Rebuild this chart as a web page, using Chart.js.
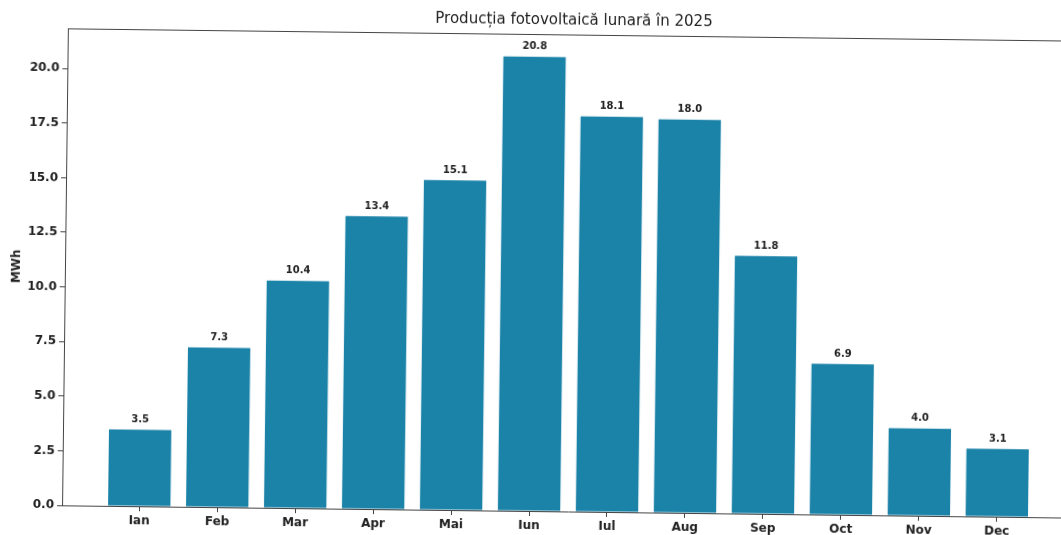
<!DOCTYPE html>
<html>
<head>
<meta charset="utf-8">
<script src="https://cdn.jsdelivr.net/npm/chart.js@4"></script>
<style>
  html, body { margin: 0; padding: 0; background: #fff; overflow: hidden; }
  #wrap { width: 1100px; height: 535px; transform: rotate(0.7deg); transform-origin: 530px 267px; }
</style>
</head>
<body>
<div id="wrap"><canvas id="myChart" width="1100" height="535"></canvas></div>
<script>
// monthly PV production
var months = ['Ian', 'Feb', 'Mar', 'Apr', 'Mai', 'Iun', 'Iul', 'Aug', 'Sep', 'Oct', 'Nov', 'Dec'];
var production = [3.5, 7.3, 10.4, 13.4, 15.1, 20.8, 18.1, 18.0, 11.8, 6.9, 4.0, 3.1];
var yTicks = [0, 2.5, 5, 7.5, 10, 12.5, 15, 17.5, 20];
var chartTitle = 'Producția fotovoltaică lunară în 2025';

var barColor = '#1b82a8';
var axisColor = '#444';
var textColor = '#222';

// title centred on the plot, value over each bar, top/right spines
var extras = {
    id: 'extras',
    afterDatasetsDraw: function(chart) {
        var ctx = chart.ctx;
        var area = chart.chartArea;
        ctx.save();
        ctx.strokeStyle = axisColor;
        ctx.lineWidth = 1;
        ctx.beginPath();
        ctx.moveTo(area.left, area.top + 0.5);
        ctx.lineTo(area.right, area.top + 0.5);
        ctx.lineTo(area.right, area.bottom);
        ctx.stroke();

        ctx.fillStyle = textColor;
        ctx.textAlign = 'center';
        ctx.textBaseline = 'middle';
        ctx.font = '15px "DejaVu Sans"';
        ctx.fillText(chartTitle, (area.left + area.right) / 2, 20);

        ctx.font = 'bold 10px "DejaVu Sans"';
        ctx.textBaseline = 'bottom';
        chart.getDatasetMeta(0).data.forEach(function(bar, i) {
            ctx.fillText(production[i].toFixed(1), bar.x, bar.y - 5);
        });
        ctx.restore();
    }
};

document.addEventListener('DOMContentLoaded', function() {
    var ctx = document.getElementById('myChart').getContext('2d');

    var myChart = new Chart(ctx, {
        type: 'bar',
        data: {
            datasets: [{
                label: 'MWh',
                data: production.map(function(v, i) { return { x: i, y: v }; }),
                backgroundColor: barColor,
                borderWidth: 0,
                categoryPercentage: 1.0,
                barPercentage: 0.8
            }]
        },
        options: {
            responsive: false,
            animation: false,
            layout: { padding: { left: 0, right: 23, top: 34, bottom: 0 } },
            plugins: {
                legend: { display: false },
                tooltip: { enabled: false },
                title: { display: false }
            },
            scales: {
                x: {
                    type: 'linear',
                    min: -0.99,
                    max: 11.99,
                    offset: false,
                    grid: { offset: false, drawOnChartArea: false, drawTicks: true, tickLength: 5, color: axisColor },
                    border: { display: true, color: axisColor, width: 1 },
                    afterBuildTicks: function(scale) {
                        scale.ticks = months.map(function(m, i) { return { value: i }; });
                    },
                    afterFit: function(scale) { scale.height = 24; },
                    ticks: {
                        autoSkip: false,
                        maxRotation: 0,
                        padding: 3,
                        color: textColor,
                        font: { family: 'DejaVu Sans', size: 12, weight: 'bold' },
                        callback: function(value) { return months[value]; }
                    }
                },
                y: {
                    min: 0,
                    max: 21.84,
                    grid: { drawOnChartArea: false, drawTicks: true, tickLength: 5, color: axisColor },
                    border: { display: true, color: axisColor, width: 1 },
                    afterBuildTicks: function(scale) {
                        scale.ticks = yTicks.map(function(v) { return { value: v }; });
                    },
                    afterFit: function(scale) { scale.width = 65; },
                    title: {
                        display: true,
                        text: 'MWh',
                        color: textColor,
                        font: { family: 'DejaVu Sans', size: 12, weight: 'bold' },
                        padding: { top: 10, bottom: 4 }
                    },
                    ticks: {
                        padding: 3,
                        color: textColor,
                        font: { family: 'DejaVu Sans', size: 12, weight: 'bold' },
                        callback: function(value) { return value.toFixed(1); }
                    }
                }
            }
        },
        plugins: [extras]
    });
});
</script>
</body>
</html>
